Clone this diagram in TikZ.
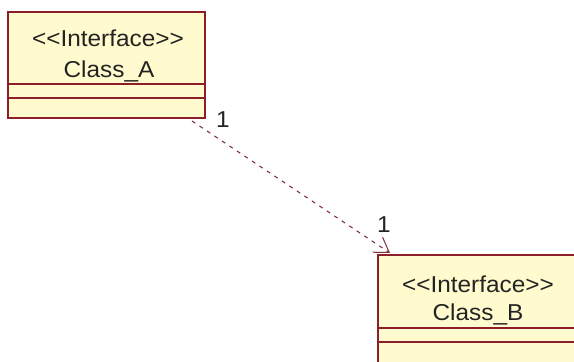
\documentclass[tikz,border=0pt]{standalone}
\usepackage{fontspec}
\setmainfont[FakeStretch=1.06]{Liberation Sans}
\usetikzlibrary{arrows.meta}
\definecolor{umlborder}{RGB}{140,30,42}
\definecolor{umlfill}{RGB}{255,251,206}
\definecolor{umltext}{RGB}{35,35,35}
\definecolor{umldash}{RGB}{125,45,55}
\tikzset{
  classbox/.style={draw=umlborder, fill=umlfill, line width=1.4pt, rectangle,
    inner sep=0pt, outer sep=0pt, minimum width=197pt, anchor=north west},
  sepline/.style={draw=umlborder, line width=1.4pt},
  umltxt/.style={text=umltext, inner sep=0pt, anchor=base,
    font=\fontsize{23}{28}\selectfont},
  dep/.style={draw=umldash, line width=1pt, dash pattern=on 4pt off 5pt,
    -{Straight Barb[length=14pt,width=18pt,line width=1pt]}}
}
\begin{document}
\begin{tikzpicture}[x=1pt,y=-1pt]
\clip (0,0) rectangle (574,362);
\fill[white] (0,0) rectangle (574,362);
% Class A
\node[classbox, minimum height=106pt] (A) at (8,12) {};
\draw[sepline] ([yshift=-72pt]A.north west) -- ([yshift=-72pt]A.north east);
\draw[sepline] ([yshift=-86pt]A.north west) -- ([yshift=-86pt]A.north east);
\node[umltxt] (a1) at (108,46) {<{}<Interface>{}>};
\node[umltxt] (a2) at (109,77) {Class\_A};
% Class B
\node[classbox, minimum height=145pt, minimum width=198pt] (B) at (378,255) {};
\draw[sepline] ([yshift=-73pt]B.north west) -- ([yshift=-73pt]B.north east);
\draw[sepline] ([yshift=-87pt]B.north west) -- ([yshift=-87pt]B.north east);
\node[umltxt] (b1) at (478,292) {<{}<Interface>{}>};
\node[umltxt] (b2) at (478,320) {Class\_B};
% dependency
\draw[dep] ([xshift=-13pt,yshift=-3pt]A.south east) -- ([xshift=12pt,yshift=2pt]B.north west);
\node[umltxt] (m1) at (223,127) {1};
\node[umltxt] (m2) at (384,232) {1};
\end{tikzpicture}
\end{document}
